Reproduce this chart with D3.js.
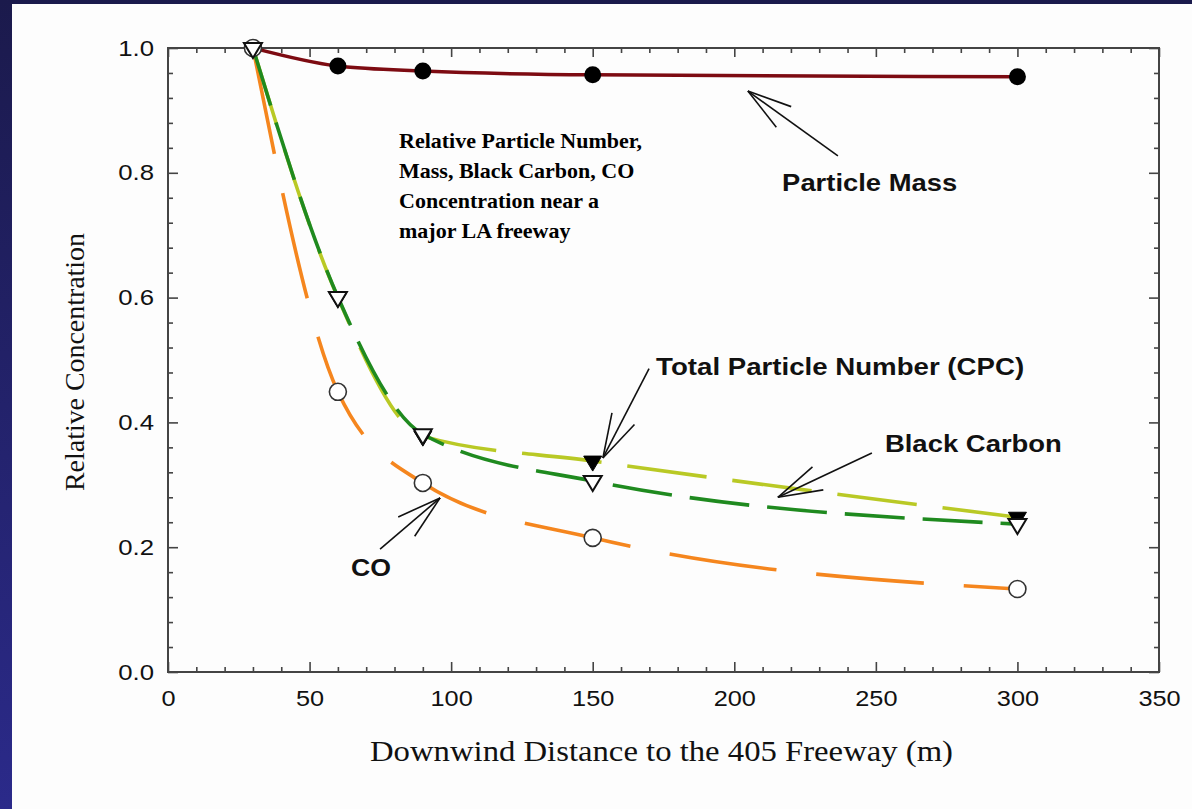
<!DOCTYPE html>
<html>
<head>
<meta charset="utf-8">
<script src="https://cdn.jsdelivr.net/npm/d3@7"></script>
<style>
  html, body { margin: 0; padding: 0; background: #1b1a4d; }
  svg { display: block; }
</style>
</head>
<body>
<svg id="chart" width="1192" height="809"></svg>
<script>
// ---------- data ----------
const distance = [30, 60, 90, 150, 300];
const particleMass = [1.0, 0.971, 0.963, 0.957, 0.954];
const particleNumber = [1.0, 0.60, 0.378, 0.338, 0.248];
const blackCarbon = [1.0, 0.601, 0.381, 0.306, 0.237];
const carbonMonoxide = [1.0, 0.449, 0.303, 0.215, 0.133];

const xMajorTicks = [0, 50, 100, 150, 200, 250, 300, 350];
const yMajorTicks = [0, 0.2, 0.4, 0.6, 0.8, 1.0];
const yTickLabels = ["0.0", "0.2", "0.4", "0.6", "0.8", "1.0"];

const xTitle = "Downwind Distance to the 405 Freeway (m)";
const yTitle = "Relative Concentration";
const noteLines = ["Relative Particle Number,", "Mass, Black Carbon, CO", "Concentration near a", "major LA freeway"];

// annotation labels and arrows (data units)
const labelTexts = ["Particle Mass", "Total Particle Number (CPC)", "Black Carbon", "CO"];
const labelX = [216.9, 172.4, 253.2, 64.6];
const labelY = [0.771, 0.476, 0.353, 0.154];
const arrowTailX = [236.6, 169.9, 248.6, 74.9];
const arrowTailY = [0.827, 0.486, 0.351, 0.197];
const arrowTipX = [204.8, 153.6, 215.4, 96.1];
const arrowTipY = [0.931, 0.343, 0.280, 0.279];

// ---------- setup ----------
const svg = d3.select("#chart");
const W = 1192, H = 809;

const defs = svg.append("defs");
const grad = defs.append("linearGradient").attr("id", "bg").attr("x1", 0).attr("y1", 0).attr("x2", 0).attr("y2", 1);
grad.append("stop").attr("offset", "0%").attr("stop-color", "#1b1a4c");
grad.append("stop").attr("offset", "100%").attr("stop-color", "#2b2a8a");
svg.append("rect").attr("width", W).attr("height", H).attr("fill", "url(#bg)");
svg.append("rect").attr("x", 12).attr("y", 4).attr("width", W - 12).attr("height", H - 4).attr("fill", "#fdfdfd");

const x = d3.scaleLinear().domain([0, 350]).range([168, 1159]);
const y = d3.scaleLinear().domain([0, 1]).range([672, 48]);

const sansFont = "'Liberation Sans', Arial, sans-serif";
const serifFont = "'Liberation Serif', 'Times New Roman', serif";

function stretch(sel, factor) {
  sel.each(function () {
    const w = this.getComputedTextLength();
    d3.select(this).attr("textLength", w * factor).attr("lengthAdjust", "spacingAndGlyphs");
  });
}

// ---------- axes ----------
const xMinor = d3.range(0, 351, 10).filter(d => d % 50 !== 0);
const yMinor = d3.range(0, 1.0001, 0.04).map(d => +d.toFixed(2)).filter(d => Math.round(d * 100) % 20 !== 0);
const axisColor = "#444";

function styleAxis(g) {
  g.select(".domain").remove();
  g.selectAll(".tick line").attr("stroke", axisColor).attr("stroke-width", 1.6);
}

const gxB = svg.append("g").attr("transform", `translate(0,${y(0)})`)
  .call(d3.axisBottom(x).tickValues(xMajorTicks).tickSizeInner(-10).tickSizeOuter(0).tickPadding(18).tickFormat(d3.format("d")));
styleAxis(gxB);
gxB.selectAll("text").attr("font-family", sansFont).attr("font-size", 22).attr("fill", "#111");
stretch(gxB.selectAll("text"), 1.15);

svg.append("g").attr("transform", `translate(0,${y(0)})`)
  .call(d3.axisBottom(x).tickValues(xMinor).tickSizeInner(-5).tickSizeOuter(0).tickFormat(""))
  .call(styleAxis);

svg.append("g").attr("transform", `translate(0,${y(1)})`)
  .call(d3.axisTop(x).tickValues(xMajorTicks).tickSizeInner(-9).tickSizeOuter(0).tickFormat(""))
  .call(styleAxis);
svg.append("g").attr("transform", `translate(0,${y(1)})`)
  .call(d3.axisTop(x).tickValues(xMinor).tickSizeInner(-5).tickSizeOuter(0).tickFormat(""))
  .call(styleAxis);

const gyL = svg.append("g").attr("transform", `translate(${x(0)},0)`)
  .call(d3.axisLeft(y).tickValues(yMajorTicks).tickSizeInner(-10).tickSizeOuter(0).tickPadding(14)
    .tickFormat((d, i) => yTickLabels[i]));
styleAxis(gyL);
gyL.selectAll("text").attr("font-family", sansFont).attr("font-size", 22).attr("fill", "#111");
stretch(gyL.selectAll("text"), 1.17);

svg.append("g").attr("transform", `translate(${x(0)},0)`)
  .call(d3.axisLeft(y).tickValues(yMinor).tickSizeInner(-5).tickSizeOuter(0).tickFormat(""))
  .call(styleAxis);
svg.append("g").attr("transform", `translate(${x(350)},0)`)
  .call(d3.axisRight(y).tickValues(yMajorTicks).tickSizeInner(-10).tickSizeOuter(0).tickFormat(""))
  .call(styleAxis);
svg.append("g").attr("transform", `translate(${x(350)},0)`)
  .call(d3.axisRight(y).tickValues(yMinor).tickSizeInner(-5).tickSizeOuter(0).tickFormat(""))
  .call(styleAxis);

// frame
svg.append("rect")
  .attr("x", x(0)).attr("y", y(1))
  .attr("width", x(350) - x(0)).attr("height", y(0) - y(1))
  .attr("fill", "none").attr("stroke", axisColor).attr("stroke-width", 2);

// axis titles
const xt = svg.append("text")
  .attr("x", (x(0) + x(350)) / 2 - 2).attr("y", 761)
  .attr("text-anchor", "middle")
  .attr("font-family", serifFont).attr("font-size", 30).attr("fill", "#111")
  .text(xTitle);
xt.attr("textLength", 583).attr("lengthAdjust", "spacingAndGlyphs");

const yt = svg.append("text")
  .attr("transform", `translate(84,${(y(0) + y(1)) / 2 + 2}) rotate(-90)`)
  .attr("text-anchor", "middle")
  .attr("font-family", serifFont).attr("font-size", 27).attr("fill", "#111")
  .text(yTitle);
yt.attr("textLength", 258).attr("lengthAdjust", "spacingAndGlyphs");

// ---------- series ----------
const series = [
  { name: "mass", values: particleMass, color: "#7d0b12", dash: null },
  { name: "cpc", values: particleNumber, color: "#b9c925", dash: "80,26" },
  { name: "co", values: carbonMonoxide, color: "#f5861e", dash: "108,40" },
  { name: "bc", values: blackCarbon, color: "#1f8a1f", dash: "60,18" }
];

const line = d3.line()
  .x(d => x(d[0]))
  .y(d => y(d[1]))
  .curve(d3.curveMonotoneX);

const linesG = svg.append("g");
series.forEach(s => {
  const pts = distance.map((d, i) => [d, s.values[i]]);
  const p = linesG.append("path")
    .attr("d", line(pts))
    .attr("fill", "none")
    .attr("stroke", s.color)
    .attr("stroke-width", s.name === "mass" ? 3.5 : 3.6)
    .attr("stroke-linecap", "butt");
  if (s.dash) p.attr("stroke-dasharray", s.dash);
});

// markers
const downTri = "M-9,-5L9,-5L0,10Z";
const mk = svg.append("g");
// particle mass: filled circles
mk.selectAll(".m").data(distance.map((d, i) => [d, particleMass[i]])).join("circle")
  .attr("cx", d => x(d[0])).attr("cy", d => y(d[1])).attr("r", 8.5).attr("fill", "#000");
// CPC: filled down triangles
mk.selectAll(".c").data(distance.map((d, i) => [d, particleNumber[i]])).join("path")
  .attr("d", downTri).attr("transform", d => `translate(${x(d[0])},${y(d[1])})`)
  .attr("fill", "#000").attr("stroke", "#000").attr("stroke-width", 1);
// CO: open circles
mk.selectAll(".o").data(distance.map((d, i) => [d, carbonMonoxide[i]])).join("circle")
  .attr("cx", d => x(d[0])).attr("cy", d => y(d[1])).attr("r", 8.5)
  .attr("fill", "#fff").attr("stroke", "#333").attr("stroke-width", 1.6);
// Black carbon: open down triangles
mk.selectAll(".b").data(distance.map((d, i) => [d, blackCarbon[i]])).join("path")
  .attr("d", downTri).attr("transform", d => `translate(${x(d[0])},${y(d[1])})`)
  .attr("fill", "#fff").attr("stroke", "#111").attr("stroke-width", 2);

// ---------- annotations ----------
const note = svg.append("text")
  .attr("x", x(81.6)).attr("y", y(0.840))
  .attr("font-family", serifFont).attr("font-weight", "bold").attr("font-size", 22).attr("fill", "#000");
noteLines.forEach((t, i) => {
  note.append("tspan").attr("x", x(81.6)).attr("dy", i === 0 ? 0 : 30).text(t);
});

const labelWidths = [175, 368, 177, 40];
labelTexts.forEach((t, i) => {
  svg.append("text")
    .attr("x", x(labelX[i])).attr("y", y(labelY[i]))
    .attr("font-family", sansFont).attr("font-weight", "bold").attr("font-size", 24).attr("fill", "#111")
    .attr("textLength", labelWidths[i]).attr("lengthAdjust", "spacingAndGlyphs")
    .text(t);
});

const arrowsG = svg.append("g").attr("stroke", "#111").attr("stroke-width", 1.6).attr("fill", "none");
labelTexts.forEach((t, i) => {
  const tx = x(arrowTailX[i]), ty = y(arrowTailY[i]);
  const hx = x(arrowTipX[i]), hy = y(arrowTipY[i]);
  arrowsG.append("line").attr("x1", tx).attr("y1", ty).attr("x2", hx).attr("y2", hy);
  const ang = Math.atan2(ty - hy, tx - hx);
  const len = 46, spread = 16 * Math.PI / 180;
  [-spread, spread].forEach(a => {
    arrowsG.append("line")
      .attr("x1", hx).attr("y1", hy)
      .attr("x2", hx + len * Math.cos(ang + a))
      .attr("y2", hy + len * Math.sin(ang + a));
  });
});
</script>
</body>
</html>
